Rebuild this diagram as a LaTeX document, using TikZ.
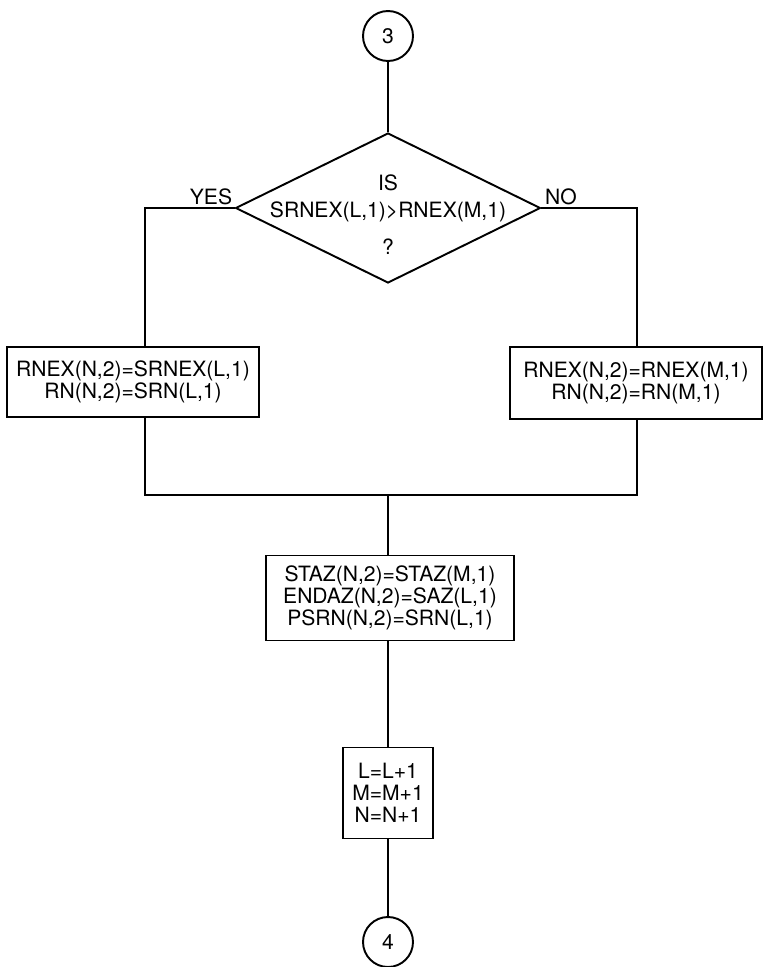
\documentclass[tikz,border=0pt]{standalone}
\usepackage{fontspec}
\setmainfont{TeX Gyre Heros}
\usetikzlibrary{shapes.geometric}

\begin{document}
\begin{tikzpicture}[x=0.02cm, y=-0.02cm, line width=1.1pt,
        every node/.style={font=\fontsize{12}{12.5}\selectfont},
        conn/.style={circle, draw, minimum size=1cm, inner sep=0pt},
        decision/.style={diamond, draw, minimum width=6.1cm, minimum height=3cm, inner sep=0pt},
        box/.style={rectangle, draw, align=center, inner sep=0pt}]
        \useasboundingbox (0,0) rectangle (765,967);

        \node[conn] at (388,36)(c3){3};
        \node[decision] at (388,208)(dec){};
        \node[align=center] at (388,215)(test){IS\\[2.8pt]SRNEX(L,1)>RNEX(M,1)\\[8.5pt]?};
        \node at (211,197)(yes){YES};
        \node at (561,197)(no){NO};
        \node[box, minimum width=5.04cm, minimum height=1.4cm] at (133,382)(lbox){RNEX(N,2)=SRNEX(L,1)\\RN(N,2)=SRN(L,1)};
        \node[box, minimum width=5.04cm, minimum height=1.44cm] at (636,383)(rbox){RNEX(N,2)=RNEX(M,1)\\RN(N,2)=RN(M,1)};
        \node[box, minimum width=4.96cm, minimum height=1.7cm] at (390,598)(azbox){STAZ(N,2)=STAZ(M,1)\\ENDAZ(N,2)=SAZ(L,1)\\PSRN(N,2)=SRN(L,1)};
        \node[box, minimum width=1.8cm, minimum height=1.82cm] at (388,793)(incbox){L=L+1\\M=M+1\\N=N+1};
        \node[conn] at (388,942)(c4){4};

        \coordinate (jl) at (145,495);
        \coordinate (jm) at (388,495);
        \coordinate (jr) at (637,495);

        \draw (c3) -- (dec);
        \draw (dec.west) -| (jl |- lbox.north);
        \draw (dec.east) -| (jr |- rbox.north);
        \draw (jl |- lbox.south) -- (jl) -- (jr) -- (jr |- rbox.south);
        \draw (jm) -- (jm |- azbox.north);
        \draw (jm |- azbox.south) -- (incbox);
        \draw (incbox) -- (c4);
    \end{tikzpicture}
\end{document}
